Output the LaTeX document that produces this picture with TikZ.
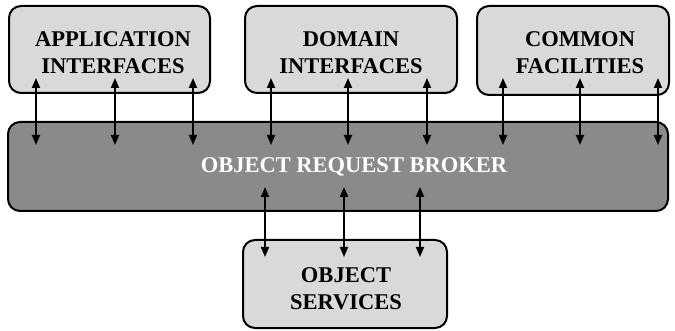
\documentclass[tikz,border=0pt]{standalone}
\usepackage{fontspec}
\setmainfont{Liberation Serif}
\usetikzlibrary{arrows.meta}
\definecolor{lightbox}{HTML}{D9D9D9}
\definecolor{orbfill}{HTML}{8A8A8A}
\begin{document}
\begin{tikzpicture}[x=1pt,y=-1pt,
  box/.style={draw=black,line width=2pt,rounded corners=12pt,fill=lightbox,inner sep=0pt},
  lbl/.style={font=\bfseries\fontsize{22.5}{27}\selectfont,align=center,text=black},
  link/.style={line width=1.8pt,{Triangle[length=10pt,width=8pt]}-{Triangle[length=10pt,width=8pt]}}]
\useasboundingbox (0,0) rectangle (675,331);
\node[box,minimum width=201pt,minimum height=87pt] (app) at (109.5,49.5) {};
\node[box,minimum width=212pt,minimum height=87pt] (dom) at (351,49.5) {};
\node[box,minimum width=192pt,minimum height=89pt] (com) at (573,50.5) {};
\node[box,fill=orbfill,minimum width=660pt,minimum height=89pt] (orb) at (338,166.5) {};
\node[box,minimum width=204pt,minimum height=88pt] (svc) at (345,284) {};
\node[lbl] (appt) at (113,53) {APPLICATION\\INTERFACES};
\node[lbl] (domt) at (351,53) {DOMAIN\\INTERFACES};
\node[lbl] (comt) at (580,53) {COMMON\\FACILITIES};
\node[lbl,text=white] (orbt) at (354,167) {OBJECT REQUEST BROKER};
\node[lbl] (svct) at (346,289) {OBJECT\\SERVICES};
\foreach \i/\x in {1/36,2/115,3/193,4/271,5/348,6/427,7/503,8/580,9/658}{
  \coordinate (u\i t) at (\x,78);
  \coordinate (u\i b) at (\x,145);
  \draw[link] (u\i t) -- (u\i b);
}
\foreach \i/\x in {1/265,2/344,3/420}{
  \coordinate (l\i t) at (\x,187);
  \coordinate (l\i b) at (\x,257);
  \draw[link] (l\i t) -- (l\i b);
}
\end{tikzpicture}
\end{document}
